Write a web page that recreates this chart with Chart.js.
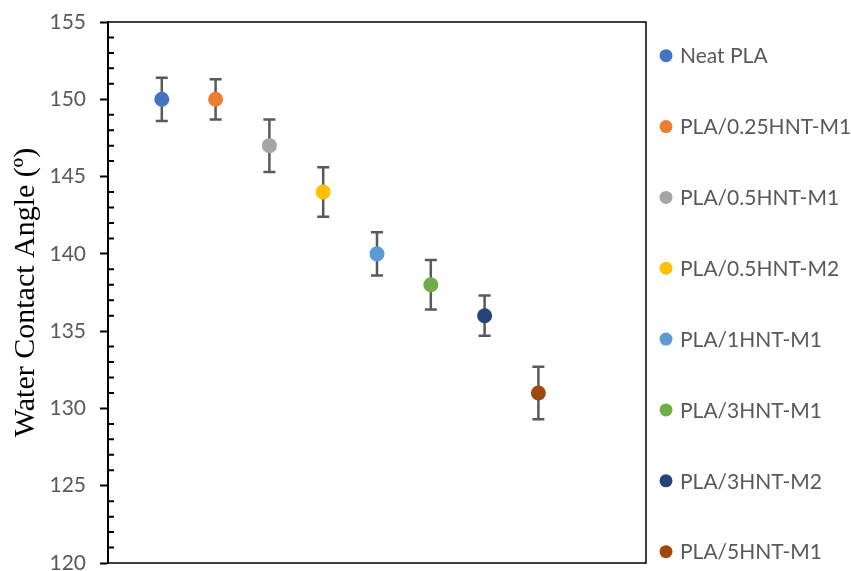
<!DOCTYPE html>
<html>
<head>
<meta charset="utf-8">
<script src="https://cdn.jsdelivr.net/npm/chart.js@4/dist/chart.umd.min.js"></script>
<style>
  html, body { margin: 0; padding: 0; background: #fff; }
  #wrap { width: 851px; height: 571px; }
</style>
</head>
<body>
<div id="wrap"><canvas id="angleChart" width="851" height="571"></canvas></div>
<script>
// samples, mean water contact angle and standard deviation
const samples = ['Neat PLA', 'PLA/0.25HNT-M1', 'PLA/0.5HNT-M1', 'PLA/0.5HNT-M2',
                 'PLA/1HNT-M1', 'PLA/3HNT-M1', 'PLA/3HNT-M2', 'PLA/5HNT-M1'];
const angles = [150, 150, 147, 144, 140, 138, 136, 131];
const stdDev = [1.4, 1.3, 1.7, 1.6, 1.4, 1.6, 1.3, 1.7];
const colors = ['#4472C4', '#ED7D31', '#A5A5A5', '#FFC000',
                '#5B9BD5', '#70AD47', '#264478', '#9E480E'];
const yTicks = [120, 125, 130, 135, 140, 145, 150, 155];

const labelFont = "'Lato', 'Open Sans', sans-serif";

const datasets = samples.map((name, i) => ({
    label: name,
    data: [{ x: i + 1, y: angles[i] }],
    backgroundColor: colors[i],
    borderColor: colors[i],
    pointRadius: 7.5,
    pointHoverRadius: 7.5,
    borderWidth: 0
}));

// error bars drawn under the markers
const errorBars = {
    id: 'errorBars',
    beforeDatasetsDraw(chart) {
        const ctx = chart.ctx;
        const xs = chart.scales.x, ys = chart.scales.y;
        ctx.save();
        ctx.strokeStyle = '#595959';
        ctx.lineWidth = 2.5;
        angles.forEach((v, i) => {
            const px = xs.getPixelForValue(i + 1);
            const top = ys.getPixelForValue(v + stdDev[i]);
            const bot = ys.getPixelForValue(v - stdDev[i]);
            ctx.beginPath();
            ctx.moveTo(px, top); ctx.lineTo(px, bot);
            ctx.moveTo(px - 6, top); ctx.lineTo(px + 6, top);
            ctx.moveTo(px - 6, bot); ctx.lineTo(px + 6, bot);
            ctx.stroke();
        });
        ctx.restore();
    }
};

// plot frame, minor ticks and the legend column on the right
const frame = {
    id: 'frame',
    afterDraw(chart) {
        const ctx = chart.ctx;
        const a = chart.chartArea;
        const ys = chart.scales.y;
        ctx.save();
        ctx.strokeStyle = '#000';
        ctx.lineWidth = 1.5;
        ctx.beginPath();
        ctx.moveTo(a.left, a.top); ctx.lineTo(a.right, a.top);
        ctx.lineTo(a.right, a.bottom); ctx.lineTo(a.left, a.bottom);
        ctx.stroke();

        ctx.lineWidth = 2;
        ctx.beginPath();
        for (let v = yTicks[0]; v <= yTicks[yTicks.length - 1]; v++) {
            if (v % 5 === 0) continue;
            const py = ys.getPixelForValue(v);
            ctx.moveTo(a.left, py); ctx.lineTo(a.left + 6, py);
        }
        ctx.stroke();

        ctx.font = '21px ' + labelFont;
        ctx.textBaseline = 'middle';
        ctx.textAlign = 'left';
        samples.forEach((name, i) => {
            const cy = 55.7 + i * 70.85;
            ctx.fillStyle = colors[i];
            ctx.beginPath();
            ctx.arc(a.right + 20, cy, 6.5, 0, Math.PI * 2);
            ctx.fill();
            ctx.fillStyle = '#595959';
            ctx.fillText(name, a.right + 34, cy + 1);
        });
        ctx.restore();
    }
};

new Chart(document.getElementById('angleChart').getContext('2d'), {
    type: 'scatter',
    data: { datasets: datasets },
    options: {
        responsive: false,
        animation: false,
        layout: { padding: { top: 22, right: 205, bottom: 8, left: 8 } },
        plugins: {
            legend: { display: false },
            tooltip: { enabled: false }
        },
        scales: {
            x: {
                display: false,
                min: 0,
                max: 10
            },
            y: {
                min: yTicks[0],
                max: yTicks[yTicks.length - 1],
                afterFit(scale) {
                    scale.width = 100;
                    scale.paddingTop = 0;
                    scale.paddingBottom = 0;
                },
                afterBuildTicks(scale) { scale.ticks = yTicks.map(v => ({ value: v })); },
                ticks: {
                    color: '#595959',
                    font: { family: labelFont, size: 21 },
                    padding: 14
                },
                grid: {
                    drawOnChartArea: false,
                    tickLength: 8,
                    tickWidth: 2,
                    tickColor: '#000'
                },
                border: { display: true, color: '#000', width: 2 },
                title: {
                    display: true,
                    text: 'Water Contact Angle (º)',
                    color: '#000',
                    font: { family: "'Liberation Serif', 'Times New Roman', serif", size: 30 },
                    padding: { top: 0, bottom: 0 }
                }
            }
        }
    },
    plugins: [errorBars, frame]
});
</script>
</body>
</html>
